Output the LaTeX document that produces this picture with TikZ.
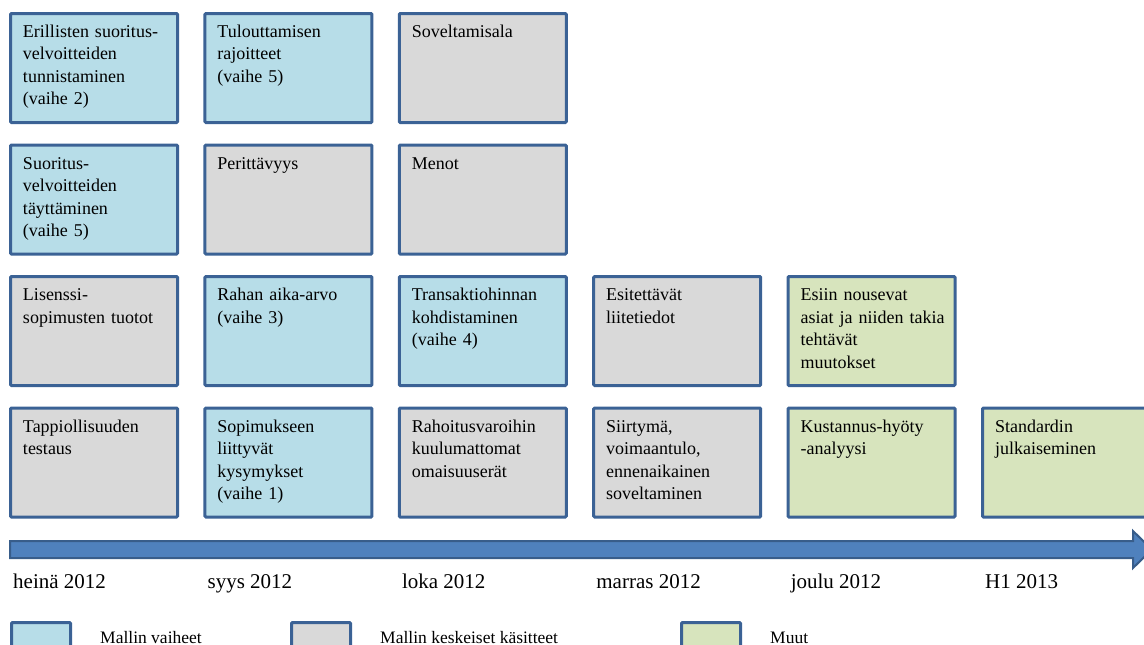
\documentclass[tikz,border=0pt]{standalone}
\usepackage{fontspec}
\setmainfont{Liberation Serif}
\usepackage{xcolor}
\usepackage{tikz}
\usetikzlibrary{positioning}

\definecolor{boxborder}{HTML}{3B6295}
\definecolor{phasefill}{HTML}{B7DDE8}
\definecolor{conceptfill}{HTML}{D9D9D9}
\definecolor{otherfill}{HTML}{D7E4BD}
\definecolor{timefill}{HTML}{4F81BD}
\definecolor{timeborder}{HTML}{385D8A}

\begin{document}
\begin{tikzpicture}[
    x=1pt, y=-1pt,
    node distance=19.5pt and 24.4pt,
    box/.style={
        draw=boxborder,
        line width=3pt,
        rounded corners=1pt,
        text width=142pt,
        inner xsep=12.5pt,
        inner ysep=11pt,
        text height=13pt,
        text depth=74pt,
        align=left,
        font=\fontsize{18}{22.5}\selectfont,
    },
    phase/.style={box, fill=phasefill},
    concept/.style={box, fill=conceptfill},
    other/.style={box, fill=otherfill},
    timeline/.style={fill=timefill, draw=timeborder, line width=2pt},
    month/.style={anchor=base west, inner sep=0pt, xshift=4pt,
        font=\fontsize{21}{25}\selectfont},
    key/.style={draw=boxborder, line width=3pt, rounded corners=1pt,
        minimum width=59pt, minimum height=30pt, inner sep=0pt,
        anchor=north west},
    keytext/.style={anchor=base west, inner sep=0pt,
        font=\fontsize{17.5}{21}\selectfont},
]
\useasboundingbox (0,0) rectangle (1144,645);

% ----- Row 1 -----
\node[phase, anchor=north west] (erill) at (9,12)
    {Erillisten suoritus-\\velvoitteiden\\tunnistaminen\\(vaihe 2)};
\node[phase, right=of erill] (rajoit) {Tulouttamisen\\rajoitteet\\(vaihe 5)};
\node[concept, right=of rajoit] (sovel) {Soveltamisala};

% ----- Row 2 -----
\node[phase, below=of erill] (tayt)
    {Suoritus-\\velvoitteiden\\täyttäminen\\(vaihe 5)};
\node[concept, right=of tayt] (perit) {Perittävyys};
\node[concept, right=of perit] (menot) {Menot};

% ----- Row 3 -----
\node[concept, below=of tayt] (lisens) {Lisenssi-\\sopimusten tuotot};
\node[phase, right=of lisens] (raha) {Rahan aika-arvo\\(vaihe 3)};
\node[phase, right=of raha] (kohdis)
    {Transaktiohinnan\\kohdistaminen\\(vaihe 4)};
\node[concept, right=of kohdis] (liite) {Esitettävät\\liitetiedot};
\node[other, right=of liite] (esiin)
    {Esiin nousevat\\\mbox{asiat ja niiden takia}\\tehtävät\\muutokset};

% ----- Row 4 -----
\node[concept, below=of lisens] (tappio) {Tappiollisuuden\\testaus};
\node[phase, right=of tappio] (sopim)
    {Sopimukseen\\liittyvät\\kysymykset\\(vaihe 1)};
\node[concept, right=of sopim] (rahoit)
    {Rahoitusvaroihin\\kuulumattomat\\omaisuuserät};
\node[concept, right=of rahoit] (siirt)
    {Siirtymä,\\voimaantulo,\\ennenaikainen\\soveltaminen};
\node[other, right=of siirt] (kustan) {Kustannus-hyöty\\-analyysi};
\node[other, right=of kustan] (julk) {Standardin\\julkaiseminen};

% ----- Timeline -----
\draw[timeline] (10,541) -- (1133,541) -- (1133,531) -- (1152,549.5)
    -- (1133,568) -- (1133,558) -- (10,558) -- cycle;

\coordinate (tlabels) at (0,588);
\node[month] (heina) at (tappio.west |- tlabels) {heinä 2012};
\node[month] (syys) at (sopim.west |- tlabels) {syys 2012};
\node[month] (loka) at (rahoit.west |- tlabels) {loka 2012};
\node[month] (marras) at (siirt.west |- tlabels) {marras 2012};
\node[month] (joulu) at (kustan.west |- tlabels) {joulu 2012};
\node[month] (hone) at (julk.west |- tlabels) {H1 2013};

% ----- Legend -----
\node[key, fill=phasefill] (keyphase) at (10,621) {};
\node[keytext] (keyphaselbl) at (100,643) {Mallin vaiheet};
\node[key, fill=conceptfill] (keyconcept) at (290,621) {};
\node[keytext] (keyconceptlbl) at (380,643) {Mallin keskeiset käsitteet};
\node[key, fill=otherfill] (keyother) at (680,621) {};
\node[keytext] (keyotherlbl) at (770,643) {Muut};

\end{tikzpicture}
\end{document}
